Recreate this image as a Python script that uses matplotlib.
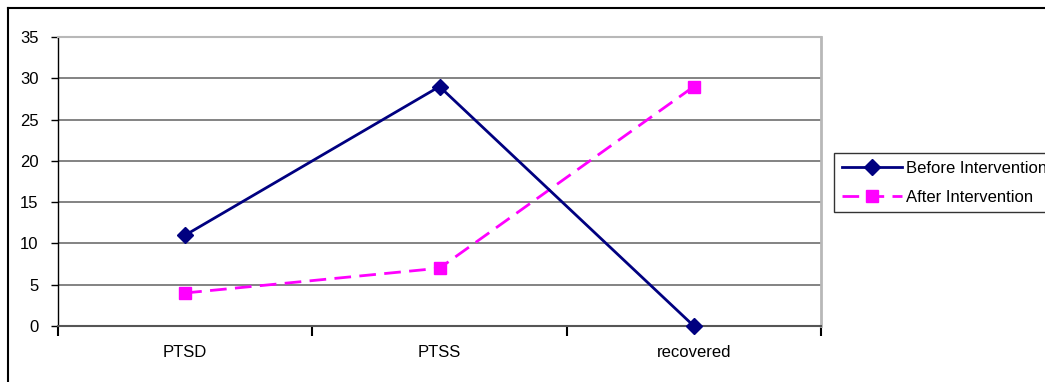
import matplotlib
matplotlib.use("Agg")
import matplotlib.pyplot as plt
from matplotlib.lines import Line2D

plt.rcParams['font.family'] = ['Liberation Sans', 'DejaVu Sans']

categories = ["PTSD", "PTSS", "recovered"]
before = [11, 29, 0]
after = [4, 7, 29]
yticks = [0, 5, 10, 15, 20, 25, 30, 35]

W, H = 1045, 382
fig = plt.figure(figsize=(W / 100, H / 100), dpi=100)
ax = fig.add_axes([58 / W, 1 - 326 / H, (821 - 58) / W, (326 - 37) / H])

x = list(range(len(categories)))
ax.plot(x, before, color="#000080", lw=2, marker="D", ms=8, label="Before Intervention",
        clip_on=False, zorder=4)
ax.plot(x, after, color="#FF00FF", lw=2, ls=(0, (6, 3)), marker="s", ms=9, label="After Intervention",
        clip_on=False, zorder=3)

ax.set_xlim(-0.5, len(categories) - 0.5)
ax.set_ylim(0, 35)
ax.set_yticks(yticks)
ax.set_xticks(x)
ax.set_xticklabels(categories)
ax.set_xticks([i - 0.5 for i in range(len(categories) + 1)], minor=True)
ax.tick_params(axis="x", which="major", length=0, pad=14, labelsize=12)
ax.tick_params(axis="x", which="minor", length=7, width=1.5, direction="out", color="black")
ax.tick_params(axis="y", length=5, width=1, direction="out", pad=9, labelsize=12, color="black")

for y in yticks[1:-1]:
    ax.axhline(y, color="#7a7a7a", lw=1.3, zorder=1)
ax.spines["top"].set_color("#b8b8b8")
ax.spines["top"].set_linewidth(1.5)
ax.spines["right"].set_color("#b8b8b8")
ax.spines["right"].set_linewidth(2)
ax.spines["left"].set_color("black")
ax.spines["left"].set_linewidth(1)
ax.spines["bottom"].set_color("#555555")
ax.spines["bottom"].set_linewidth(1.5)

leg = ax.legend(loc="upper left", bbox_to_anchor=(834 / W, 1 - 153 / H),
                bbox_transform=fig.transFigure, frameon=True, fancybox=False,
                edgecolor="black", fontsize=12, handlelength=3.6, handletextpad=0.25,
                borderpad=0.45, labelspacing=0.85, borderaxespad=0)
leg.get_frame().set_linewidth(1)

# outer chart border
fig.add_artist(Line2D([8 / W, 8 / W], [1 - 8 / H, 0], transform=fig.transFigure, color="black", lw=1.5))
fig.add_artist(Line2D([8 / W, 1], [1 - 8 / H, 1 - 8 / H], transform=fig.transFigure, color="black", lw=1.5))

fig.savefig("out.png", dpi=100)
